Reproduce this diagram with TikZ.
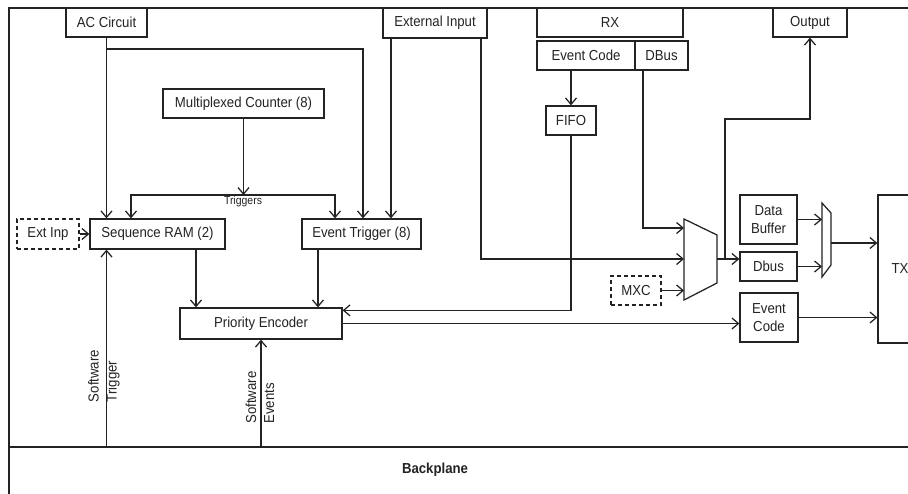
\documentclass[tikz,border=0pt]{standalone}
\usepackage{fontspec}
\setmainfont[FakeStretch=0.91]{Liberation Sans}
\usetikzlibrary{arrows.meta}
\definecolor{ln}{RGB}{35,35,35}
\newcommand\mysz{\fontsize{14.5}{18}\selectfont}
\newcommand\mysmall{\fontsize{11.5}{13}\selectfont}
\tikzset{
  box/.style={draw, rectangle, inner sep=0pt, align=center, font=\mysz},
  dbox/.style={box, dash pattern=on 4pt off 3pt},
  tip/.tip={Straight Barb[length=6.5pt,width=11pt]},
  arr/.style={-tip},
}
\begin{document}
\begin{tikzpicture}[x=1pt,y=-1pt,line width=1.25pt,ln]
\clip (0,0) rectangle (908,493);
\fill[white] (0,0) rectangle (908,493);
% frame
\draw (9,497) -- (9,8) -- (912,8);
\coordinate (bpl) at (9,447);
\coordinate (bpr) at (912,447);
\draw (bpl) -- (bpr);
\node[font=\mysz\bfseries] (bp) at (435,470) {Backplane};
% boxes
\node[box, minimum width=81pt, minimum height=29pt] (ac) at (106.5,22.5) {AC Circuit};
\node[box, minimum width=104pt, minimum height=30pt] (ext) at (435,23) {External Input};
\node[box, minimum width=146pt, minimum height=29pt] (rx) at (610,22.5) {RX};
\node[box, minimum width=98pt, minimum height=29pt] (evc) at (586,55.5) {Event Code};
\node[box, minimum width=53pt, minimum height=29pt] (dbr) at (661.5,55.5) {DBus};
\node[box, minimum width=74pt, minimum height=29pt] (out) at (810,22.5) {Output};
\node[box, minimum width=50pt, minimum height=29pt] (fifo) at (571,120.5) {FIFO};
\node[box, minimum width=161pt, minimum height=29pt] (mc) at (243.5,103.5) {Multiplexed Counter (8)};
\node[box, minimum width=135pt, minimum height=30pt] (seq) at (157.5,234) {Sequence RAM (2)};
\node[dbox, minimum width=62pt, minimum height=30pt] (xin) at (48,234) {Ext Inp};
\node[box, minimum width=119pt, minimum height=30pt] (evt) at (361.5,234) {Event Trigger (8)};
\node[box, minimum width=162pt, minimum height=31pt] (pe) at (261,323.5) {Priority Encoder};
\node[dbox, minimum width=50pt, minimum height=29pt] (mxc) at (636,290.5) {MXC};
\node[box, minimum width=57pt, minimum height=49pt] (dbuf) at (768.5,219.5) {Data\\Buffer};
\node[box, minimum width=57pt, minimum height=29pt] (dbus) at (768.5,266.5) {Dbus};
\node[box, minimum width=58pt, minimum height=49pt] (evc2) at (769,317.5) {Event\\Code};
\node[box, minimum width=44pt, minimum height=148pt] (tx) at (900,269) {TX};
% multiplexers
\draw (684,219) -- (717,235) -- (717,283) -- (684,300) -- cycle;
\coordinate (mi1) at (684,228);
\coordinate (mi2) at (684,259);
\coordinate (mi3) at (684,292);
\coordinate (mo) at (717,259);
\coordinate (jn) at (725,259);
\draw (822,203) -- (831,213) -- (831,265) -- (822,277) -- cycle;
\coordinate (m2x) at (822,0);
\coordinate (m2o) at (831,243);
% connectors
\draw[arr] (ac.south) -- (ac.south |- seq.north);
\coordinate (acb) at (106.5,49);
\draw[arr] (acb) -| ([xshift=1.5pt]evt.north);
\draw[arr] ([xshift=-44pt]ext.south) -- ([xshift=-44pt]ext.south |- evt.north);
\draw[arr] ([xshift=46pt]ext.south) |- (mi2);
\coordinate (trl) at (131,195);
\coordinate (trr) at (335,195);
\draw[arr] (mc.south) -- (mc.south |- trl);
\draw[tip-tip] (trl |- seq.north) -- (trl) -- (trr) -- (trr |- evt.north);
\node[font=\mysmall, inner sep=0pt] (trg) at (243,202) {Triggers};
\draw[arr] (xin.east) -- (seq.west);
\draw[arr] ([xshift=38.5pt]seq.south) -- ([xshift=38.5pt]seq.south |- pe.north);
\draw[arr] ([xshift=-43.5pt]evt.south) -- ([xshift=-43.5pt]evt.south |- pe.north);
\draw[arr] (fifo.north |- evc.south) -- (fifo.north);
\draw[arr] (fifo.south) |- ([yshift=-3pt]pe.north east);
\draw[arr] ([xshift=-18.5pt]dbr.south) |- (mi1);
\draw[arr] (mxc.east) -- (mxc.east -| mi3);
\draw[arr] (mo) -- (mo -| dbus.west);
\coordinate (y119) at (0,119);
\draw[arr] (jn) -- (jn |- y119) -| (out.south);
\draw[arr] (dbuf.east) -- (dbuf.east -| m2x);
\draw[arr] (dbus.east) -- (dbus.east -| m2x);
\draw[arr] (m2o) -- (m2o -| tx.west);
\draw[arr] (evc2.east) -- (evc2.east -| tx.west);
\draw[arr] (pe.east) -- (pe.east -| evc2.west);
\draw[arr] (ac.south |- bpl) -- (ac.south |- seq.south);
\draw[arr] (pe.south |- bpl) -- (pe.south);
\node[rotate=90, align=left, font=\mysz] (swt) at (104,376) {Software\\Trigger};
\node[rotate=90, align=left, font=\mysz] (swe) at (260,397.5) {Software\\Events};
\end{tikzpicture}
\end{document}
